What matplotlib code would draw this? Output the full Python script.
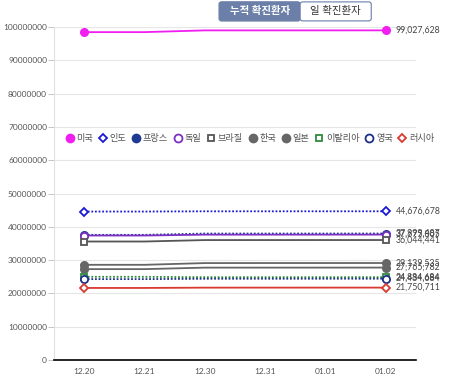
import matplotlib.pyplot as plt
from matplotlib.lines import Line2D
from matplotlib.patches import FancyBboxPatch

plt.rcParams['font.family'] = ['Lato', 'Noto Sans CJK KR', 'DejaVu Sans']

dates = ['12.20', '12.21', '12.30', '12.31', '01.01', '01.02']
countries = ['미국', '인도', '프랑스', '독일', '브라질', '한국', '일본', '이탈리아', '영국', '러시아']

us = [98500000, 98500000, 99020000, 99022000, 99025000, 99027628]
india = [44600000, 44600000, 44670000, 44672000, 44675000, 44676678]
france = [37600000, 37600000, 37990000, 37995000, 37997000, 37999487]
germany = [37400000, 37400000, 37660000, 37665000, 37670000, 37675805]
brazil = [35600000, 35600000, 36030000, 36035000, 36040000, 36044441]
korea = [28600000, 28600000, 29120000, 29130000, 29135000, 29139535]
japan = [27300000, 27300000, 27750000, 27755000, 27760000, 27765782]
italy = [25000000, 25000000, 24870000, 24875000, 24880000, 24884684]
uk = [24300000, 24300000, 24420000, 24425000, 24430000, 24434684]
russia = [21650000, 21650000, 21740000, 21745000, 21748000, 21750711]

series = [us, india, france, germany, brazil, korea, japan, italy, uk, russia]
colors = ['#f01ef0', '#1a1ad6', '#1f3a93', '#7b2fc4', '#555555',
          '#666666', '#666666', '#2e8b3e', '#1c2f8a', '#d93a2f']
markers = ['o', 'D', 'o', 'o', 's', 'o', 'o', 's', 'o', 'D']
filled = [True, False, True, False, False, True, True, False, False, False]
styles = ['-', (0, (1, 1)), (0, (1, 1)), '-', '-', '-', '-', (0, (1, 1)), (0, (1, 1)), '-']


def msize(m):
    return 5.2 if m == 'o' else 3.8


fig = plt.figure(figsize=(4.5, 3.8), dpi=100)
ax = fig.add_axes([0.12, 0.0526, 0.804, 0.876])

x = list(range(len(dates)))
for vals, c, m, f, ls in zip(series, colors, markers, filled, styles):
    ax.plot(x, vals, color=c, linestyle=ls, linewidth=1.3, zorder=3)
    ax.plot([x[0], x[-1]], [vals[0], vals[-1]], linestyle='none', marker=m,
            markersize=msize(m), markeredgewidth=1.3, markeredgecolor=c,
            markerfacecolor=c if f else 'white', clip_on=False, zorder=4)
    ax.text(x[-1] + 0.17, vals[-1], f'{vals[-1]:,}', fontsize=6.3,
            color='#444444', va='center', ha='left', clip_on=False)

ax.set_xlim(-0.5, len(dates) - 0.5)
ax.set_ylim(0, 100000000)
ax.set_yticks(range(0, 100000001, 10000000))
ax.set_yticklabels([str(v) for v in range(0, 100000001, 10000000)])
ax.set_xticks(x)
ax.set_xticklabels(dates)
ax.tick_params(axis='y', labelsize=6, colors='#555555', length=4, width=0.6,
               pad=1, color='#bbbbbb')
ax.tick_params(axis='x', labelsize=6, colors='#555555', length=0, pad=6)
ax.grid(axis='y', color='#e6e6e6', linewidth=0.8)
ax.set_axisbelow(True)
for s in ['top', 'right']:
    ax.spines[s].set_visible(False)
ax.spines['left'].set_color('#e0e0e0')
ax.spines['bottom'].set_color('black')
ax.spines['bottom'].set_linewidth(1.2)

handles = []
for c, m, f in zip(colors, markers, filled):
    handles.append(Line2D([], [], linestyle='none', marker=m, markersize=msize(m) + 0.5,
                          markeredgewidth=1.3, markeredgecolor=c,
                          markerfacecolor=c if f else 'white'))
fig.legend(handles, countries, loc='center left', bbox_to_anchor=(0.128, 0.635),
           ncol=10, frameon=False, fontsize=6.6, handlelength=0.8,
           handletextpad=0.35, columnspacing=0.65, labelcolor='#555555')

# toggle buttons
b1 = FancyBboxPatch((0.487, 0.945), 0.18, 0.05, boxstyle='round,pad=0,rounding_size=0.006',
                    transform=fig.transFigure, facecolor='#6b7fa8', edgecolor='#6b7fa8')
b2 = FancyBboxPatch((0.667, 0.945), 0.158, 0.05, boxstyle='round,pad=0,rounding_size=0.006',
                    transform=fig.transFigure, facecolor='white', edgecolor='#6b7fa8', linewidth=0.8)
fig.patches.extend([b1, b2])
fig.text(0.577, 0.97, '누적 확진환자', color='white', fontsize=7.5, fontweight='bold',
         ha='center', va='center')
fig.text(0.746, 0.97, '일 확진환자', color='#333333', fontsize=7.5, ha='center', va='center')

fig.savefig('out.png', dpi=100)
